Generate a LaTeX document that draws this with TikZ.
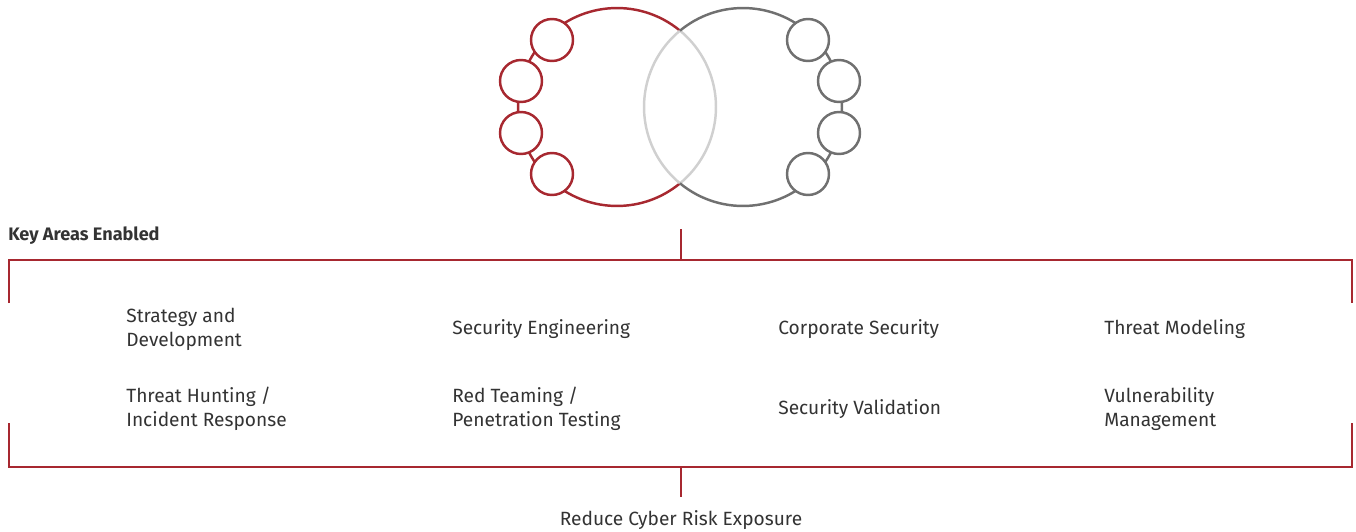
\documentclass[tikz,border=0pt]{standalone}
\usepackage{fontspec}
\setmainfont{Fira Sans}
\usetikzlibrary{positioning,calc}
\definecolor{brickred}{HTML}{A72830}
\definecolor{midgray}{HTML}{707070}
\definecolor{lensgray}{HTML}{D0D0D0}
\definecolor{inkgray}{HTML}{333333}
\tikzset{
  ring/.style={line width=1.4pt},
  bead/.style={circle, draw, fill=white, line width=1.4pt, minimum size=0.84cm, inner sep=0pt},
  bracket/.style={draw=brickred, line width=1.5pt},
  area/.style={anchor=west, inner sep=0pt, align=left, text=inkgray,
    font=\fontsize{10.9}{13.7}\selectfont},
}
\begin{document}
\begin{tikzpicture}[x=0.02cm,y=0.02cm]
    \useasboundingbox (0,0) rectangle (1356,-531);
    % the two rings
    \coordinate (lc) at (617,-107);
    \coordinate (rc) at (743,-107);
    \draw[ring, brickred] (lc) ++(50.3:1.98cm) arc[start angle=50.3, end angle=309.7, radius=1.98cm];
    \draw[ring, lensgray] (lc) ++(-50.3:1.98cm) arc[start angle=-50.3, end angle=50.3, radius=1.98cm];
    \draw[ring, midgray] (rc) ++(-129.7:1.98cm) arc[start angle=-129.7, end angle=129.7, radius=1.98cm];
    \draw[ring, lensgray] (rc) ++(129.7:1.98cm) arc[start angle=129.7, end angle=230.3, radius=1.98cm];
    % beads on the rings
    \foreach \x/\y [count=\i] in {552/40,521/81,521/133,552/174} {
      \node[bead, draw=brickred] (l\i) at (\x,-\y) {};
      \node[bead, draw=midgray] (r\i) at (1360-\x,-\y) {};
    }
    % brackets
    \node[anchor=base west, inner sep=0pt, text=inkgray, font=\fontsize{10.3}{13}\selectfont\bfseries] (keys) at (8,-240) {Key Areas Enabled};
    \coordinate (ts) at (681,-229);
    \coordinate (tm) at (681,-260);
    \coordinate (tl) at (9,-303);
    \coordinate (tr) at (1352,-303);
    \draw[bracket] (ts) -- (tm);
    \draw[bracket] (tl) |- (tm) -| (tr);
    \coordinate (bl) at (9,-423);
    \coordinate (br) at (1352,-423);
    \coordinate (bm) at (681,-467);
    \coordinate (bs) at (681,-497);
    \draw[bracket] (bl) |- (bm) -| (br);
    \draw[bracket] (bm) -- (bs);
    \node[anchor=base, inner sep=0pt, text=inkgray, font=\fontsize{10.9}{13}\selectfont] (goal) at (681,-525) {Reduce Cyber Risk Exposure};
    % key areas
    \node[area] (a1) at (126,-329) {Strategy and\\Development};
    \node[area] (a2) at (452,-329) {Security Engineering};
    \node[area] (a3) at (778,-329) {Corporate Security};
    \node[area] (a4) at (1104,-329) {Threat Modeling};
    \node[area] (a5) at (126,-409) {Threat Hunting /\\Incident Response};
    \node[area] (a6) at (452,-409) {Red Teaming /\\Penetration Testing};
    \node[area] (a7) at (778,-409) {Security Validation};
    \node[area] (a8) at (1104,-409) {Vulnerability\\Management};
\end{tikzpicture}
\end{document}
